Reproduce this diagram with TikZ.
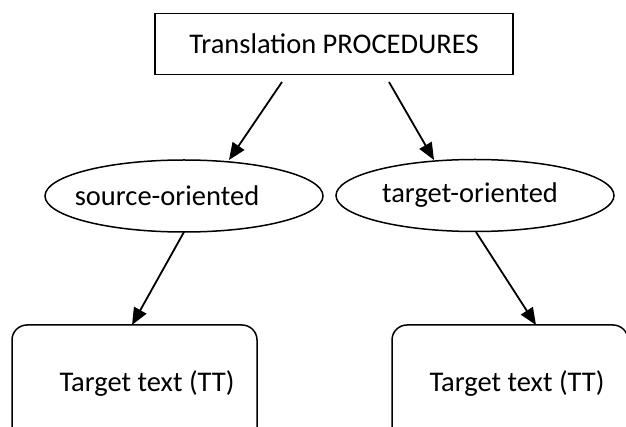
\documentclass[tikz,border=0pt]{standalone}
\usepackage{fontspec}
\setmainfont{Carlito}
\usetikzlibrary{shapes.geometric,arrows.meta}
\begin{document}
\begin{tikzpicture}[x=1pt,y=-1pt,
  every node/.style={font=\fontsize{28.5}{32}\selectfont, inner sep=0pt},
  topbox/.style={draw, line width=1.5pt, minimum width=358pt, minimum height=61pt},
  oval/.style={draw, ellipse, line width=1.5pt, minimum width=278pt, minimum height=72pt},
  ttbox/.style={draw, rounded corners=15pt, line width=1.5pt, minimum width=245pt, minimum height=118pt},
  arr/.style={line width=1.8pt, -{Triangle[length=17pt,width=14pt]}}]
\clip (0,0) rectangle (626,427);
\fill[white] (0,0) rectangle (626,427);
\node[topbox] (tp) at (334,44) {Translation PROCEDURES};
\node[oval] (so) at (184,196) {\hspace*{-34pt}source-oriented};
\node[oval] (to) at (475,195.5) {\raisebox{3pt}{\hspace*{-10pt}target-oriented}};
\node[ttbox] (tt1) at (134.5,384) {\hspace*{25pt}Target text (TT)};
\node[ttbox, minimum width=236pt] (tt2) at (510,384) {\hspace*{14pt}Target text (TT)};
\coordinate (s1) at (282,82);
\coordinate (e1) at (229,160);
\coordinate (s2) at (389,82);
\coordinate (e2) at (434,160);
\coordinate (s3) at (184,232);
\coordinate (e3) at (132,325);
\coordinate (s4) at (476,232);
\coordinate (e4) at (536,325);
\draw[arr] (s1) -- (e1);
\draw[arr] (s2) -- (e2);
\draw[arr] (s3) -- (e3);
\draw[arr] (s4) -- (e4);
\end{tikzpicture}
\end{document}
